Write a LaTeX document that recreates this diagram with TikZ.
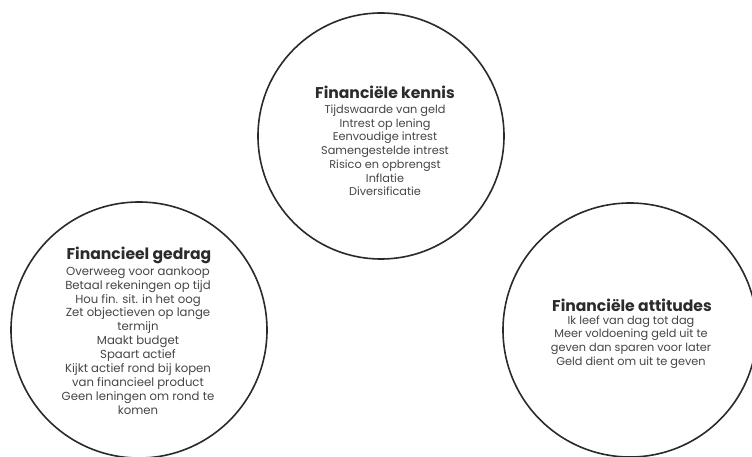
\documentclass[tikz,border=0pt]{standalone}
\usepackage{fontspec}
\setmainfont{Poppins}
\begin{document}
\begin{tikzpicture}[x=1pt,y=-1pt,
  ring/.style={circle,draw=ringc,line width=1.6pt,inner sep=0pt},
  ttl/.style={font=\bfseries\fontsize{15.6}{17}\selectfont,text=titc,inner sep=0pt},
  body/.style={font=\fontsize{11.7}{13.9}\selectfont,text=bodyc,align=center,inner sep=0pt},
  bodys/.style={body,font=\fontsize{11.3}{13.75}\selectfont}]
\definecolor{ringc}{HTML}{2A2A2A}
\definecolor{titc}{HTML}{2B2B2B}
\definecolor{bodyc}{HTML}{454545}
\useasboundingbox (0,0) rectangle (752,457);
\node[ring,minimum size=246pt] (ck) at (381,136) {};
\node[ring,minimum size=256pt] (cg) at (139,330) {};
\node[ring,minimum size=254pt] (ca) at (630,330) {};
\node[ttl] (tk) at (385,92) {Financiële kennis};
\node[bodys] (bk) at (385,150.5) {Tijdswaarde van geld\\Intrest op lening\\Eenvoudige intrest\\Samengestelde intrest\\Risico en opbrengst\\Inflatie\\Diversificatie};
\node[ttl] (tg) at (139,255) {Financieel gedrag};
\node[body] (bg) at (138,340.5) {Overweeg voor aankoop\\Betaal rekeningen op tijd\\Hou fin. sit. in het oog\\Zet objectieven op lange\\termijn\\Maakt budget\\Spaart actief\\Kijkt actief rond bij kopen\\van financieel product\\Geen leningen om rond te\\komen};
\node[ttl] (ta) at (632,305) {Financiële attitudes};
\node[bodys] (ba) at (631,342) {Ik leef van dag tot dag\\Meer voldoening geld uit te\\geven dan sparen voor later\\Geld dient om uit te geven};
\end{tikzpicture}
\end{document}
